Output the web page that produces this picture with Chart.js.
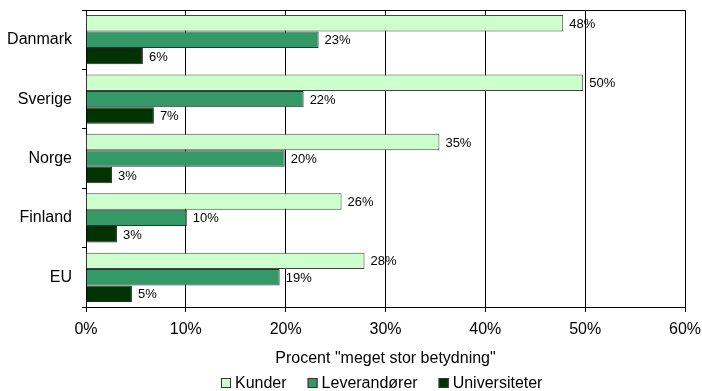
<!DOCTYPE html>
<html>
<head>
<meta charset="utf-8">
<script src="https://cdn.jsdelivr.net/npm/chart.js@4"></script>
<style>
html,body{margin:0;padding:0;background:#fff;}
#wrap{width:702px;height:391px;position:relative;}
</style>
</head>
<body>
<div id="wrap"><canvas id="c" width="702" height="391"></canvas></div>
<script>
const categories = ["Danmark", "Sverige", "Norge", "Finland", "EU"];
const kunder = [47.8, 49.8, 35.4, 25.6, 27.9];
const leverandorer = [23.3, 21.8, 19.9, 10.1, 19.4];
const universiteter = [5.7, 6.8, 2.6, 3.1, 4.6];
const seriesNames = ["Kunder", "Leverandører", "Universiteter"];
const xTicks = [0, 10, 20, 30, 40, 50, 60];
const axisTitle = 'Procent "meget stor betydning"';

const FONT = "'Liberation Sans', Arial, sans-serif";

const frame = {
  id: 'frame',
  afterDraw(chart) {
    const {ctx, chartArea: a} = chart;
    ctx.save();
    ctx.strokeStyle = '#000';
    ctx.lineWidth = 1;
    ctx.beginPath();
    ctx.moveTo(Math.round(a.left) + 0.5, Math.round(a.top) + 0.5);
    ctx.lineTo(Math.round(a.right) + 0.5, Math.round(a.top) + 0.5);
    ctx.stroke();
    ctx.restore();
  }
};

const valueLabels = {
  id: 'valueLabels',
  afterDatasetsDraw(chart) {
    const {ctx} = chart;
    ctx.save();
    ctx.font = "13px " + FONT;
    ctx.fillStyle = '#000';
    ctx.textAlign = 'left';
    ctx.textBaseline = 'middle';
    chart.data.datasets.forEach((ds, i) => {
      const meta = chart.getDatasetMeta(i);
      meta.data.forEach((el, j) => {
        ctx.fillText(Math.round(ds.data[j]) + '%', el.x + 6, el.y + 1);
      });
    });
    ctx.restore();
  }
};

const bottomLegend = {
  id: 'bottomLegend',
  afterDraw(chart) {
    const {ctx, chartArea: a} = chart;
    ctx.save();
    ctx.font = "16px " + FONT;
    ctx.textBaseline = 'middle';
    ctx.textAlign = 'left';
    const box = 10, gapText = 4, gapItem = 21;
    const items = chart.data.datasets.map(ds => ({ds, w: ctx.measureText(ds.label).width}));
    const total = items.reduce((s, it) => s + box + gapText + it.w, 0) + gapItem * (items.length - 1);
    let x = Math.round((a.left + a.right) / 2 - 4 - total / 2);
    const y = chart.height - 8;
    items.forEach(it => {
      ctx.fillStyle = it.ds.backgroundColor;
      ctx.fillRect(x, Math.round(y - box / 2), box, box);
      ctx.strokeStyle = '#333';
      ctx.lineWidth = 1;
      ctx.strokeRect(x + 0.5, Math.round(y - box / 2) + 0.5, box - 1, box - 1);
      ctx.fillStyle = '#000';
      ctx.fillText(it.ds.label, x + box + gapText, y + 1);
      x += box + gapText + it.w + gapItem;
    });
    ctx.restore();
  }
};

new Chart(document.getElementById('c'), {
  type: 'bar',
  data: {
    labels: categories,
    datasets: [
      {label: seriesNames[0], data: kunder, backgroundColor: '#CCFFCC', borderColor: '#444', borderWidth: 1},
      {label: seriesNames[1], data: leverandorer, backgroundColor: '#339966', borderColor: '#333', borderWidth: 1},
      {label: seriesNames[2], data: universiteter, backgroundColor: '#003300', borderColor: '#222', borderWidth: 1}
    ]
  },
  options: {
    indexAxis: 'y',
    responsive: false,
    animation: false,
    devicePixelRatio: 1,
    layout: {padding: {top: 10, right: 17, left: 0, bottom: 23}},
    datasets: {bar: {categoryPercentage: 0.83, barPercentage: 1.0}},
    scales: {
      x: {
        min: 0, max: 60,
        afterBuildTicks(s) { s.ticks = xTicks.map(v => ({value: v})); },
        afterFit(s) { s.paddingLeft = 0; s.paddingRight = 0; s.height = 61; },
        ticks: {
          callback: v => v + '%',
          font: {family: FONT, size: 16},
          color: '#000',
          padding: 8,
          maxRotation: 0
        },
        grid: {color: '#000', lineWidth: 1, tickLength: 5, drawOnChartArea: true},
        border: {color: '#000', width: 1},
        title: {display: true, text: axisTitle, font: {family: FONT, size: 16}, color: '#000', padding: {top: 1, bottom: 0}}
      },
      y: {
        afterFit(s) { s.width = 86; s.paddingTop = 0; s.paddingBottom = 0; },
        ticks: {font: {family: FONT, size: 16}, color: '#000', padding: 10},
        grid: {offset: true, drawOnChartArea: false, color: '#000', tickLength: 4},
        border: {color: '#000', width: 1}
      }
    },
    plugins: {
      legend: {display: false},
      tooltip: {enabled: false}
    }
  },
  plugins: [frame, valueLabels, bottomLegend]
});
</script>
</body>
</html>
